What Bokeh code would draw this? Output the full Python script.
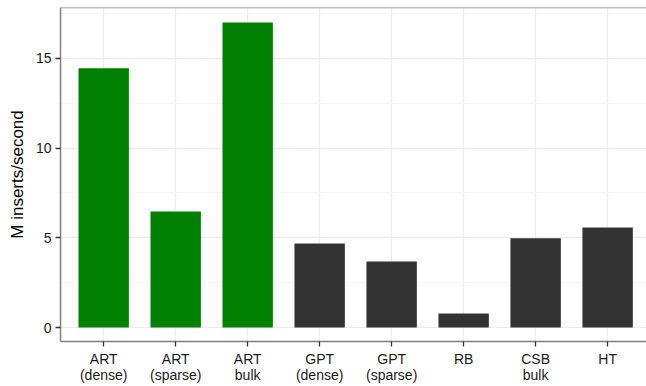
from bokeh.plotting import figure
from bokeh.models import FixedTicker, Span, Range1d
from bokeh.embed import file_html
from bokeh.resources import INLINE

categories = ["ART\n(dense)", "ART\n(sparse)", "ART\nbulk", "GPT\n(dense)",
              "GPT\n(sparse)", "RB", "CSB\nbulk", "HT"]
values = [14.45, 6.47, 17.0, 4.68, 3.68, 0.78, 4.97, 5.57]
colors = ["#008000", "#008000", "#008000", "#333333",
          "#333333", "#333333", "#333333", "#333333"]
y_ticks = [0, 5, 10, 15]
y_minor = [2.5, 7.5, 12.5, 17.5]

xs = list(range(1, len(categories) + 1))
y_start, y_end = -0.78, 17.84

p = figure(width=646, height=386, output_backend="svg", toolbar_location=None,
           x_range=Range1d(0.4, 8.54), y_range=Range1d(y_start, y_end),
           min_border_left=60, min_border_right=0, min_border_top=7,
           min_border_bottom=45)
p.outline_line_color = None
p.background_fill_color = "white"
p.border_fill_color = "white"

p.vbar(x=xs, top=values, width=0.7, bottom=0, fill_color=colors, line_color=None)

font = "Liberation Sans"
grey = "#7f7f7f"

# y axis
p.yaxis.ticker = FixedTicker(ticks=y_ticks, minor_ticks=y_minor)
p.yaxis.axis_label = "M inserts/second"
p.yaxis.axis_label_text_font = font
p.yaxis.axis_label_text_font_size = "17px"
p.yaxis.axis_label_text_font_style = "normal"
p.yaxis.axis_label_text_color = "black"
p.yaxis.axis_label_standoff = 6

# x axis
p.xaxis.ticker = FixedTicker(ticks=xs)
p.xaxis.major_label_overrides = {x: c for x, c in zip(xs, categories)}

for ax in (p.xaxis, p.yaxis):
    ax.axis_line_color = grey
    ax.axis_line_width = 1.5
    ax.major_tick_line_color = "#333333"
    ax.major_tick_line_width = 1.3
    ax.major_tick_out = 5
    ax.major_tick_in = 0
    ax.minor_tick_line_color = None
    ax.major_label_text_font = font
    ax.major_label_text_font_size = "14px"
    ax.major_label_text_color = "#1a1a1a"
    ax.major_label_text_line_height = 1.0
p.yaxis.major_label_standoff = 4
p.xaxis.major_label_standoff = 4

p.ygrid.grid_line_color = "#ebebeb"
p.ygrid.grid_line_width = 1.2
p.ygrid.minor_grid_line_color = "#f5f5f5"
p.ygrid.minor_grid_line_width = 1.2
p.xgrid.grid_line_color = "#ebebeb"
p.xgrid.grid_line_width = 1.2

p.add_layout(Span(location=y_end, dimension="width", line_color=grey, line_width=1.5))

open("out.html", "w").write(file_html(p, INLINE))
